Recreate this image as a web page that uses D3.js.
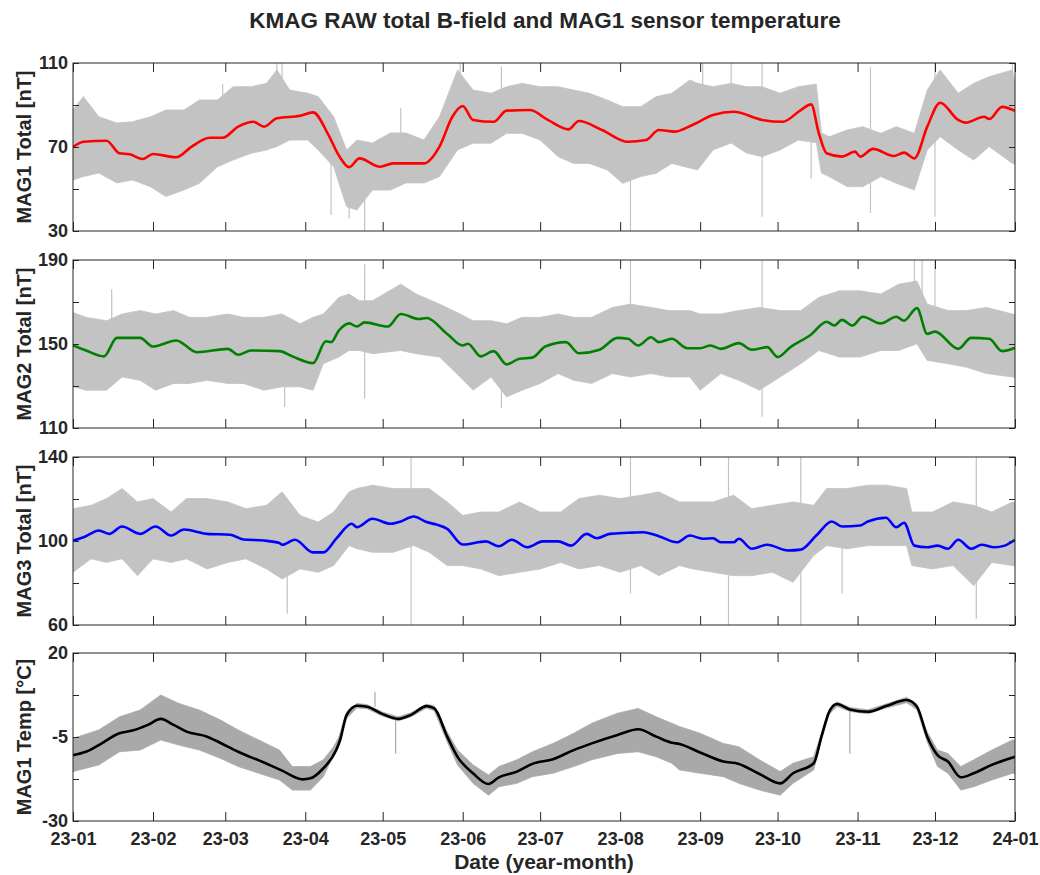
<!DOCTYPE html>
<html>
<head>
<meta charset="utf-8">
<script src="https://cdn.jsdelivr.net/npm/d3@7"></script>
<style>
  body { margin: 0; background: #fff; }
  text { font-family: "Liberation Sans", Arial, sans-serif; font-weight: bold; fill: #262626; }
</style>
</head>
<body>
<script>
// day offsets are counted from 2023-01-01
const monthTicks = ["23-01","23-02","23-03","23-04","23-05","23-06","23-07","23-08","23-09","23-10","23-11","23-12","24-01"];

const mag1Ticks = [30, 50, 70, 90, 110];
const mag2Ticks = [110, 130, 150, 170, 190];
const mag3Ticks = [60, 80, 100, 120, 140];
const tempTicks = [-30, -17.5, -5, 7.5, 20];

// smoothed series [day, value]
const mag1Smooth = [[0,70],[4,72.5],[13,73],[18,67],[22,66.5],[27,64.3],[31,66.7],[40,65.1],[46,70.2],[53,74.4],[58,74.4],[64,79.7],[70,82],[74,79.7],[79,83.7],[88,84.9],[93,86.5],[99,75.7],[103,66],[107,60.4],[111,64.6],[119,60.6],[124,62.2],[136,62.2],[142,70.2],[147,84.4],[151,89.5],[155,82.9],[163,82],[168,87.3],[177,87.6],[184,82.9],[192,78.4],[196,82.4],[205,78.1],[215,72.5],[222,73.3],[227,78.1],[233,77.3],[240,80.5],[248,85.2],[256,86.8],[267,82.9],[275,82],[282,87.6],[286,90.3],[289,76.5],[292,67],[298,65.4],[303,67.8],[305,65.4],[310,69.1],[318,65.7],[322,67.3],[326,64.6],[331,79.7],[336,91.1],[343,82.9],[346,81.6],[353,84.4],[355,83.3],[360,89.1],[365,87.2]];
const mag2Smooth = [[0,149.3],[5,146.9],[12,144.1],[17,152.9],[26,152.9],[31,148.8],[40,151.7],[48,146.1],[60,147.7],[64,144.9],[69,146.9],[80,146.6],[85,144.1],[93,140.9],[98,151.3],[100,150.9],[103,156.4],[107,159.8],[110,158.3],[113,160.3],[122,158.3],[127,164.3],[134,161.9],[137,162.4],[145,154.8],[151,149.3],[153,150.1],[158,144.1],[163,146.6],[168,140.3],[173,143],[178,143.5],[183,148.8],[191,150.9],[196,145.6],[204,147.3],[211,152.9],[215,152.5],[219,149.3],[224,153.2],[227,150.9],[232,152.5],[238,148],[243,148],[247,149.3],[251,147.7],[258,150.4],[263,147.3],[269,148.5],[273,143.8],[278,148.5],[286,154.5],[292,160.6],[295,158.8],[298,161.5],[302,158.8],[306,163],[313,159.8],[319,163],[322,161.1],[327,167.1],[331,154.8],[334,155.9],[343,147.7],[348,152.9],[355,152.5],[360,146.6],[365,148.2]];
const mag3Smooth = [[0,100.2],[5,102.3],[10,105],[14,103.4],[19,106.9],[26,103.4],[32,106.9],[38,102.6],[43,105.5],[52,103.4],[61,103],[66,100.7],[74,100.2],[80,99.1],[81,98.2],[86,100.6],[93,94.6],[97,94.6],[102,101.1],[108,108.2],[110,106.6],[116,110.6],[123,108.2],[127,109.3],[132,111.7],[137,109],[141,107.8],[145,105.8],[151,98.3],[160,99.8],[165,97.5],[170,100.6],[176,97],[182,99.8],[188,99.8],[193,97.8],[199,103.4],[203,101.3],[208,103.4],[215,103.9],[221,104.2],[227,102.3],[234,99.4],[239,102.6],[244,101.1],[248,101.3],[251,99.4],[256,99.4],[258,101.1],[263,96.3],[269,98.2],[277,95.5],[282,95.9],[288,102.6],[294,109.3],[298,106.9],[305,107.4],[308,109.3],[315,111.1],[319,106.6],[322,108.7],[326,97.8],[331,97],[335,97.8],[339,96.3],[343,100.6],[348,96.3],[352,98.2],[357,97],[361,97.8],[365,100.6]];
const tempSmooth = [[0,-10.4],[5,-9.4],[10,-7.4],[18,-3.9],[23,-3.1],[29,-1.4],[34,0.4],[39,-1.4],[44,-3.4],[52,-4.9],[57,-6.7],[64,-9.4],[74,-12.6],[81,-15],[89,-17.6],[92,-17.3],[97,-14.3],[102,-8.9],[103.5,-5.9],[106,1.5],[110,4.3],[114,4],[120,1.8],[126,0.4],[131,1.6],[137,4.2],[140,3.5],[145,-4.9],[149,-10.9],[155,-15.8],[161,-19],[165,-17],[172,-15.3],[178,-13],[186,-11.6],[194,-8.9],[201,-6.9],[211,-4.4],[219,-2.7],[226,-4.9],[232,-6.7],[235,-7.1],[243,-9.6],[252,-12.3],[258,-13],[266,-16],[274,-18.8],[279,-15.8],[287,-12.8],[290,-4.9],[293,2.5],[296,4.8],[301,3.2],[308,2.5],[315,4.2],[323,6],[327,4],[331,-4.9],[335,-10.4],[339,-12.3],[344,-17],[349,-15.8],[356,-13.3],[365,-10.9]];

// raw data envelope [day, low, high]
const mag1Band = [[0,54.3,87.6],[4,55.9,94],[10,57.6,84.4],[17,52.9,81.4],[23,54.3,82],[30,51.1,84.4],[36,46.4,87.6],[43,49.5,87.6],[49,52.7,92.4],[56,60.6,92.4],[62,63.8,98.7],[69,67,98.7],[75,68.6,100.3],[79,70.2,106.7],[84,73.3,97.1],[91,73.3,95.6],[95,68.6,94],[101,60.6,84.4],[106,41.6,68.6],[110,40,73.3],[116,49.5,71.9],[123,49.5,76.7],[129,52.9,76.7],[136,52.9,73.3],[142,55.9,84.4],[149,68.6,106.7],[155,71.8,97.1],[162,71.8,95.6],[168,76.5,98.7],[174,76.5,100.3],[181,73.3,98.7],[188,65.4,98.7],[194,62.2,97.1],[200,62.2,95.6],[207,59.1,92.4],[213,52.7,89.2],[220,55.9,89.2],[226,57.5,94],[232,62.2,95.6],[239,60,101.9],[242,59.1,100.3],[248,68.6,98.7],[255,71.9,100.3],[261,67.1,98.7],[267,65.4,98.7],[274,68.6,95.6],[281,73.3,98.7],[288,72,100],[290,57.6,76.7],[293,55.9,74.9],[300,51.1,78.1],[306,51.1,79.7],[313,55.9,76.5],[319,52.7,79.7],[326,49.5,76.5],[331,68.6,97.1],[336,74.9,106.7],[343,68.6,95.6],[349,63.8,100.3],[355,70.2,103.5],[364,62.2,106.7],[365,62,100]];
const mag2Band = [[0,129.6,165],[5,128,162.7],[13,128,161.1],[19,134.3,164.3],[26,132.7,165.9],[32,128,164.3],[39,131.2,165.9],[45,131.2,162.7],[52,132.7,162.7],[60,131.2,164.3],[66,131.2,162.7],[74,128,162.7],[81,129.6,164.3],[88,129.6,159.6],[93,128,162.7],[97,140.6,164.3],[103,143.8,172.2],[107,146.9,173.8],[111,146.9,170.6],[116,145.4,170.6],[127,146.9,178.5],[133,145.4,173.8],[142,143.8,169],[150,134.3,164.3],[155,128,161.1],[162,134.3,161.1],[168,124.8,159.6],[174,128,162.7],[181,131.2,162.7],[188,135.9,164.3],[194,132.7,162.7],[201,131.2,162.7],[209,135.9,167.4],[216,134.3,169],[224,135.9,167.4],[231,134.3,165.9],[239,134.3,165.9],[243,128,164.3],[251,135.9,164.3],[258,132.7,165.9],[266,128,167.4],[274,134.3,165.9],[282,140.6,165.9],[289,146.9,172.2],[297,143.8,175.3],[305,143.8,175.3],[313,146.9,173.8],[320,146.9,178.5],[327,150.1,180],[331,142.2,169],[339,140.6,165.9],[346,139,165.9],[354,135.9,167.4],[364,134.3,164.3],[365,134,164]];
const mag3Band = [[0,85.1,115.4],[7,91.5,117],[13,89.8,120.2],[19,91.5,125],[25,83.5,118.6],[31,91.5,120.2],[38,89.8,113.8],[44,91.5,120.2],[52,86.7,120.2],[60,89.8,118.6],[67,91.5,115.4],[75,86.7,117],[81,81.9,123.4],[88,86.7,112.2],[95,85.1,109],[101,88.3,113.8],[107,97.8,123.4],[110,96.3,125],[116,94.6,126.6],[124,94.6,125],[132,97.8,125],[138,94.6,125],[145,88.3,118.6],[151,88.3,112.2],[158,86.7,113.8],[165,83.5,113.8],[173,85.1,118.6],[181,86.7,113.8],[189,89.8,113.8],[196,86.7,120.2],[204,88.3,121.8],[212,85.1,120.2],[220,88.3,121.8],[227,83.5,123.4],[235,88.3,118.6],[240,86.7,118.6],[248,85.1,118.6],[256,83.5,121.8],[263,83.5,115.4],[271,85.1,117],[279,80.3,118.6],[287,93.1,117],[292,97.8,125],[300,96.3,125],[308,97.8,126.6],[315,97.8,126.6],[323,97.8,125],[325,88.3,113.8],[333,86.7,113.8],[341,88.3,118.6],[349,78.7,117],[356,89.8,113.8],[364,88.3,118.6],[365,88,118]];
const tempBand = [[0,-15.3,-5.4],[10,-13.3,-2.9],[18,-9.4,1],[26,-8.9,3],[34,-5.9,7.5],[41,-7.4,5],[49,-8.9,3],[57,-11.3,0.1],[64,-13.8,-2.9],[72,-15.8,-5.9],[80,-17.8,-8.9],[85,-20.8,-13.8],[92,-20.8,-13.8],[97,-16.8,-11.8],[101,-10.4,-7.9],[103,-7,-5],[106,0.5,2.5],[110,3.7,5],[114,3.4,4.6],[120,1.2,2.4],[126,-0.2,1],[131,1,2.2],[137,3.6,4.8],[140,2.8,4.2],[145,-6.5,-3.5],[149,-13.3,-8.9],[155,-18.8,-13.3],[161,-22.3,-16.3],[165,-19.8,-13.8],[172,-18.8,-11.8],[178,-16.8,-9.4],[186,-15.8,-6.9],[194,-13.8,-3.9],[201,-11.8,-0.9],[211,-9.9,2.1],[219,-9.4,3.5],[226,-10.9,1],[232,-12.8,-0.9],[235,-14.8,-1.9],[243,-15.8,-3.9],[252,-16.8,-6.9],[258,-18.8,-7.9],[266,-20.8,-11.8],[274,-22.3,-15.3],[279,-18.8,-12.8],[287,-14.8,-10.9],[290,-6,-4],[293,1.8,3.2],[296,4.1,5.5],[301,2.6,3.8],[308,1.9,3.1],[315,3.6,4.8],[323,5.2,6.8],[327,3.2,4.8],[331,-6.5,-3.5],[335,-13.8,-8.9],[339,-15.8,-9.9],[344,-20.8,-13.8],[349,-19.8,-11.8],[356,-17.8,-8.9],[364,-15.8,-5.9],[365,-15.8,-5.9]];

// isolated raw spikes [day, low, high]
const mag1Spikes = [[58,62,100],[79,72,110],[81,75,110],[100,37.6,80],[107,36,65],[113,30,60],[127,60,88.6],[150,80,110],[166,85,108.3],[216,30,65],[244,80,110],[255,80,110],[267,36.8,110],[286,55,95],[309,38.6,108],[334,36.8,110],[364,80,110]];
const mag2Spikes = [[15,150,176.1],[82,120,140],[113,124,188],[166,119.5,140],[216,150,190],[267,115.4,190],[326,150,190],[329,150,190],[334,150,190]];
const mag3Spikes = [[83,65.3,90],[131,60,140],[216,75,140],[254,60,140],[282,60,140],[298,75,105],[350,63,140]];
const tempSpikes = [[117,4,8.5],[125,-9.9,0.4],[301,-9.9,3]];

const panels = [
  {label: "MAG1 Total [nT]", ticks: mag1Ticks, band: mag1Band, spikes: mag1Spikes, line: mag1Smooth, color: "#ff0000", gray: "#c3c3c3"},
  {label: "MAG2 Total [nT]", ticks: mag2Ticks, band: mag2Band, spikes: mag2Spikes, line: mag2Smooth, color: "#008000", gray: "#c3c3c3"},
  {label: "MAG3 Total [nT]", ticks: mag3Ticks, band: mag3Band, spikes: mag3Spikes, line: mag3Smooth, color: "#0000ff", gray: "#c3c3c3"},
  {label: "MAG1 Temp [°C]", ticks: tempTicks, band: tempBand, spikes: tempSpikes, line: tempSmooth, color: "#000000", gray: "#a9a9a9"}
];

const width = 1040, height = 875;
const left = 73, right = 1015, ph = 168;
const tops = [63, 260, 457, 653];

const svg = d3.select("body")
  .append("svg")
  .attr("width", width)
  .attr("height", height);

const t0 = new Date(Date.UTC(2023, 0, 1)), t1 = new Date(Date.UTC(2024, 0, 1));
const day = d => d3.utcDay.offset(t0, Math.floor(d)).getTime() + (d % 1) * 864e5;

const x = d3.scaleUtc()
  .domain([t0, t1])
  .range([left, right]);

const months = d3.utcMonth.range(t0, d3.utcDay.offset(t1, 1));

svg.append("text")
  .attr("x", 545)
  .attr("y", 28)
  .attr("text-anchor", "middle")
  .style("font-size", "22.5px")
  .text("KMAG RAW total B-field and MAG1 sensor temperature");

panels.forEach((p, i) => {
  const g = svg.append("g")
    .attr("transform", "translate(0," + tops[i] + ")");

  const y = d3.scaleLinear()
    .domain([p.ticks[0], p.ticks[4]])
    .range([ph, 0]);

  g.append("clipPath")
    .attr("id", "clip" + i)
    .append("rect")
    .attr("x", left)
    .attr("y", 0)
    .attr("width", right - left)
    .attr("height", ph);

  const plot = g.append("g")
    .attr("clip-path", "url(#clip" + i + ")");

  plot.append("path")
    .datum(p.band)
    .attr("fill", p.gray)
    .attr("stroke", p.gray)
    .attr("stroke-width", 0.8)
    .attr("d", d3.area()
      .x(d => x(day(d[0])))
      .y0(d => y(d[1]))
      .y1(d => y(d[2])));

  plot.selectAll("line.spike")
    .data(p.spikes)
    .join("line")
    .attr("class", "spike")
    .attr("x1", d => x(day(d[0])))
    .attr("x2", d => x(day(d[0])))
    .attr("y1", d => y(d[1]))
    .attr("y2", d => y(d[2]))
    .attr("stroke", p.gray)
    .attr("stroke-width", 1.2);

  plot.append("path")
    .datum(p.line)
    .attr("fill", "none")
    .attr("stroke", p.color)
    .attr("stroke-width", 2.6)
    .attr("stroke-linejoin", "round")
    .attr("d", d3.line()
      .curve(d3.curveMonotoneX)
      .x(d => x(day(d[0])))
      .y(d => y(d[1])));

  const showLabel = (d, k) => (k % 2 === 0 ? d : "");

  const yl = g.append("g")
    .attr("transform", "translate(" + left + ",0)")
    .call(d3.axisLeft(y).tickValues(p.ticks).tickSize(-6).tickSizeOuter(0).tickPadding(5).tickFormat(showLabel));
  const yr = g.append("g")
    .attr("transform", "translate(" + right + ",0)")
    .call(d3.axisRight(y).tickValues(p.ticks).tickSize(-6).tickSizeOuter(0).tickFormat(""));
  const xt = g.append("g")
    .call(d3.axisTop(x).tickValues(months).tickSize(-9).tickSizeOuter(0).tickFormat(""));
  const xb = g.append("g")
    .attr("transform", "translate(0," + ph + ")")
    .call(d3.axisBottom(x).tickValues(months).tickSize(-9).tickSizeOuter(0).tickPadding(11)
      .tickFormat((d, k) => (i === 3 ? monthTicks[k] : "")));

  [yl, yr, xt, xb].forEach(a => {
    a.select(".domain").remove();
    a.selectAll("line").attr("stroke", "#262626");
    a.selectAll("text").attr("fill", "#262626").style("font-size", "18px").style("font-family", null);
  });

  g.append("rect")
    .attr("x", left)
    .attr("y", 0)
    .attr("width", right - left)
    .attr("height", ph)
    .attr("fill", "none")
    .attr("stroke", "#262626")
    .attr("stroke-width", 1);

  g.append("text")
    .attr("transform", "translate(31," + ph / 2 + ") rotate(-90)")
    .attr("text-anchor", "middle")
    .style("font-size", "20px")
    .text(p.label);
});

svg.append("text")
  .attr("x", 544)
  .attr("y", 869)
  .attr("text-anchor", "middle")
  .style("font-size", "21px")
  .text("Date (year-month)");
</script>
</body>
</html>
